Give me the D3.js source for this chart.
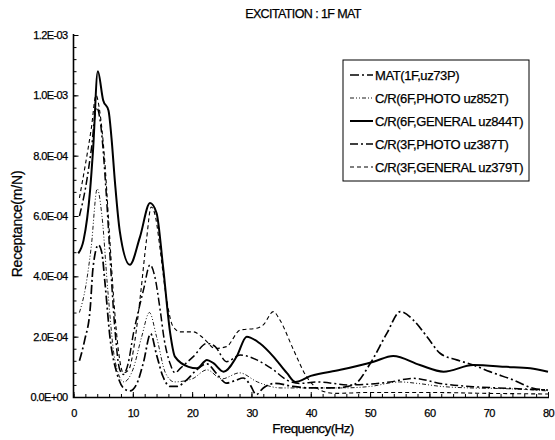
<!DOCTYPE html>
<html>
<head>
<meta charset="utf-8">
<script src="https://cdn.jsdelivr.net/npm/d3@7"></script>
<style>
  body { margin: 0; background: #fff; }
  svg { display: block; font-family: "Liberation Sans", Arial, sans-serif; }
  text { fill: #000; stroke: #000; stroke-width: 0.25px; }
</style>
</head>
<body>
<div id="chart"></div>
<script>
// values are in units of 1E-04 m/N
var seriesNames = ["MAT(1F,uz73P)", "C/R(6F,PHOTO uz852T)", "C/R(6F,GENERAL uz844T)",
                   "C/R(3F,PHOTO uz387T)", "C/R(3F,GENERAL uz379T)"];

var matFreq = [1, 1.9, 2.8, 3.3, 4.2, 4.8, 5.3, 6.2, 7.3, 8.4, 9.5, 10.7, 11.8, 13, 14, 15.1, 16.3, 17.4, 19, 20.5,
               22.5, 24, 25.8, 27.3, 28.6, 29.8, 30.8, 32, 34, 37, 40, 44, 47.2, 50, 52.8, 55.1, 57.3, 59.6, 61.8,
               64.6, 67.4, 70.2, 74.2, 77.5, 80];
var matVal  = [1.2, 1.9, 2.9, 4.3, 5.04, 4.76, 3.8, 1.9, 0.8, 0.3, 0.2, 0.45, 1.15, 2.1, 1.4, 0.67, 0.35, 0.35, 0.55, 0.85,
               1.1, 0.8, 0.46, 0.55, 0.63, 0.4, 0.08, 0.3, 0.45, 0.35, 0.3, 0.3, 0.4, 1.1, 2.1, 2.83, 2.55, 2.0, 1.45,
               1.23, 1.06, 0.84, 0.56, 0.29, 0.23];

var photo6Freq = [1, 2, 3, 4, 4.8, 5.8, 7, 8.5, 10, 11.5, 12.8, 14, 15.5, 17, 20, 22.5, 25, 28, 31, 35, 40, 45, 50,
                  55, 58, 62, 67, 72, 76, 80];
var photo6Val  = [2.8, 3.6, 5.0, 6.9, 6.0, 3.5, 1.2, 0.5, 0.9, 2.0, 2.8, 2.0, 0.8, 0.5, 0.6, 0.9, 0.6, 0.8, 0.5, 0.3,
                  0.3, 0.3, 0.35, 0.5, 0.45, 0.35, 0.3, 0.28, 0.25, 0.2];

var general6Freq = [0.8, 1.7, 2.8, 3.3, 4.1, 5, 5.9, 6.4, 7, 7.8, 9.5, 11.2, 12.9, 14, 15.1, 16.3, 17.1, 19.4, 20.8,
                    22.5, 23.6, 25.3, 27.5, 29.2, 31.4, 33.7, 36, 37.4, 40, 45, 50.6, 53.9, 58.4, 62.4, 67.4, 73, 77, 80];
var general6Val  = [4.76, 5.2, 6.86, 8.2, 10.8, 9.84, 9.5, 8.6, 7.1, 5.5, 4.38, 5.3, 6.43, 6.1, 4.32, 2.12, 1.34, 1.0, 0.95,
                    1.23, 1.12, 0.84, 1.34, 2.0, 1.78, 1.34, 0.79, 0.5, 0.7, 0.9, 1.17, 1.36, 1.06, 0.84, 1.06, 1.0, 0.95, 0.84];

var photo3Freq = [1, 2, 3, 3.9, 4.6, 5.5, 6.3, 7, 7.8, 8.4, 9.2, 10.1, 11, 11.8, 12.9, 13.7, 14.6, 15.3, 16.3, 17.1, 18,
                  20.2, 22.5, 23.9, 25.8, 28.1, 30.9, 33.7, 36, 38.2, 41, 46.6, 53.4, 57.3, 61.8, 67.4, 73, 80];
var photo3Val  = [6.0, 6.9, 8.2, 9.6, 9.0, 6.8, 4.2, 2.2, 0.9, 0.75, 1.1, 2.1, 2.9, 3.55, 4.38, 4.0, 2.9, 1.9, 1.1, 0.8, 0.95,
                  1.34, 1.78, 1.67, 1.17, 1.39, 1.23, 0.9, 0.56, 0.45, 0.5, 0.4, 0.5, 0.62, 0.45, 0.34, 0.29, 0.23];

var general3Freq = [1, 2, 3, 3.8, 4.4, 5.2, 6, 6.8, 7.6, 8.4, 9.3, 10.3, 11.3, 12.3, 13.1, 13.9, 14.6, 15.5, 16.8, 18,
                    20.2, 21.9, 23.9, 25.8, 28.1, 30.9, 32, 33.7, 34.8, 37.1, 39.3, 41.6, 44, 50, 60, 70, 80];
var general3Val  = [6.6, 7.7, 8.9, 10.0, 9.5, 8.0, 5.6, 3.2, 1.5, 0.8, 0.9, 1.8, 3.4, 5.2, 6.3, 5.9, 4.9, 3.5, 2.33, 2.16,
                    2.16, 1.95, 1.61, 1.67, 2.22, 2.28, 2.39, 2.83, 2.55, 1.56, 0.67, 0.23, 0.12, 0.15, 0.15, 0.12, 0.1];

var xTickLabels = ["0", "10", "20", "30", "40", "50", "60", "70", "80"];
var yTickLabels = ["0.0E+00", "2.0E-04", "4.0E-04", "6.0E-04", "8.0E-04", "1.0E-03", "1.2E-03"];

var W = 555, H = 440;
var svg = d3.select("#chart").append("svg")
    .attr("width", W)
    .attr("height", H);

var x = d3.scaleLinear().domain([0, 80]).range([73.5, 548]);
var y = d3.scaleLinear().domain([0, 1.2e-3]).range([397, 35]);

// title
svg.append("text")
    .attr("x", 303).attr("y", 18)
    .attr("text-anchor", "middle")
    .style("font-size", "12.5px")
    .style("letter-spacing", "-0.6px")
    .text("EXCITATION : 1F MAT");

// minor ticks (inside)
svg.append("g")
    .attr("transform", "translate(0,397)")
    .call(d3.axisBottom(x).tickValues(d3.range(0, 81, 2)).tickSize(-3).tickFormat(""))
    .call(g => g.select(".domain").remove());
svg.append("g")
    .attr("transform", "translate(73.5,0)")
    .call(d3.axisLeft(y).tickValues(d3.range(0, 1.2e-3 + 1e-9, 4e-5)).tickSize(-3).tickFormat(""))
    .call(g => g.select(".domain").remove());

// major ticks and labels
var xAxis = svg.append("g")
    .attr("transform", "translate(0,397)")
    .call(d3.axisBottom(x).tickValues(d3.range(0, 81, 10)).tickSize(-5).tickPadding(12)
        .tickFormat((d, i) => xTickLabels[i]));
var yAxis = svg.append("g")
    .attr("transform", "translate(73.5,0)")
    .call(d3.axisLeft(y).tickValues(d3.range(0, 7).map(i => i * 2e-4)).tickSize(-5).tickPadding(6)
        .tickFormat((d, i) => yTickLabels[i]));

[xAxis, yAxis].forEach(function(g) {
  g.select(".domain").remove();
  g.selectAll("text").style("font-size", "11px").style("letter-spacing", "-0.6px");
});
svg.selectAll(".tick line").attr("stroke", "#000");

// axis lines
svg.append("path")
    .attr("d", "M73.5,34 V397.5 H549")
    .attr("fill", "none")
    .attr("stroke", "#000")
    .attr("stroke-width", 1.6);

// axis titles
svg.append("text")
    .attr("x", 313).attr("y", 433)
    .attr("text-anchor", "middle")
    .style("font-size", "13.5px")
    .style("letter-spacing", "-0.6px")
    .text("Frequency(Hz)");
svg.append("text")
    .attr("transform", "translate(22,224) rotate(-90)")
    .attr("text-anchor", "middle")
    .style("font-size", "14px")
    .style("letter-spacing", "-0.2px")
    .text("Receptance(m/N)");

// series
var series = [
  {name: seriesNames[0], f: matFreq, v: matVal, dash: "9,3,2,3", w: 1.7},
  {name: seriesNames[1], f: photo6Freq, v: photo6Val, dash: "4,2,1,2,1,2", w: 0.9},
  {name: seriesNames[2], f: general6Freq, v: general6Val, dash: null, w: 2},
  {name: seriesNames[3], f: photo3Freq, v: photo3Val, dash: "8,3,2,3", w: 1.5},
  {name: seriesNames[4], f: general3Freq, v: general3Val, dash: "4,3", w: 1.1}
];

var line = d3.line()
    .x(d => x(d[0]))
    .y(d => y(d[1] * 1e-4))
    .curve(d3.curveMonotoneX);

series.forEach(function(s) {
  svg.append("path")
      .datum(s.f.map((f, i) => [f, s.v[i]]))
      .attr("d", line)
      .attr("fill", "none")
      .attr("stroke", "#000")
      .attr("stroke-width", s.w)
      .attr("stroke-dasharray", s.dash);
});

// legend
var lg = svg.append("g").attr("transform", "translate(343,60)");
lg.append("rect")
    .attr("width", 186).attr("height", 121)
    .attr("fill", "#fff")
    .attr("stroke", "#000")
    .attr("stroke-width", 1);
series.forEach(function(s, i) {
  var yy = 15 + i * 23;
  lg.append("line")
      .attr("x1", 7).attr("x2", 30)
      .attr("y1", yy).attr("y2", yy)
      .attr("stroke", "#000")
      .attr("stroke-width", s.w)
      .attr("stroke-dasharray", s.dash);
  lg.append("text")
      .attr("x", 32).attr("y", yy + 4.5)
      .style("font-size", "13px")
      .style("letter-spacing", "-0.4px")
      .text(s.name);
});
</script>
</body>
</html>
